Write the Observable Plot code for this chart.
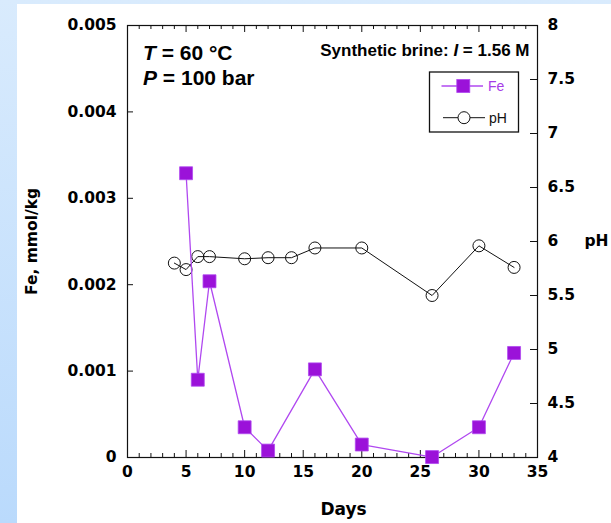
<!DOCTYPE html>
<html><head><meta charset="utf-8">
<script src="https://cdn.jsdelivr.net/npm/d3@7"></script>
<script src="https://cdn.jsdelivr.net/npm/@observablehq/plot@0.6"></script>
<style>
html,body{margin:0;padding:0;background:#fff}
#wrap{position:relative;width:611px;height:523px;overflow:hidden;background:linear-gradient(to bottom,#d9ebfd,#badafc)}
#panel{position:absolute;left:17px;top:4px;width:594px;height:519px;background:#fff}
#overlay{position:absolute;left:0;top:0;pointer-events:none}
</style></head><body>
<div id="wrap"><div id="panel"></div>
<svg id="overlay" width="611" height="523" font-family="'Liberation Sans', Arial, sans-serif">
  <text x="143" y="60" font-size="21" font-weight="bold"><tspan font-style="italic">T</tspan> = 60 °C</text>
  <text x="143" y="85" font-size="21" font-weight="bold"><tspan font-style="italic">P</tspan> = 100 bar</text>
  <text x="529.5" y="56" font-size="17" font-weight="bold" text-anchor="end">Synthetic brine: <tspan font-style="italic">I</tspan> = 1.56 M</text>
  <rect x="429.5" y="72" width="89" height="60" fill="#fff" stroke="#111" stroke-width="1.3"/>
  <line x1="441.5" x2="483" y1="86" y2="86" stroke="#b048f0" stroke-width="1.3"/>
  <rect x="456.8" y="79.5" width="13" height="13" fill="#9b12d9" stroke="#b048f0" stroke-width="0.8"/>
  <text x="488" y="91" font-size="14" fill="#a63ce8">Fe</text>
  <line x1="443" x2="485" y1="117.7" y2="117.7" stroke="#111" stroke-width="1"/>
  <circle cx="464" cy="117.7" r="6" fill="#fff" stroke="#111" stroke-width="1"/>
  <text x="489" y="122.5" font-size="14" fill="#111">pH</text>
</svg>
</div>
<script>
// ---- data ----
const feDays = [5, 6, 7, 10, 12, 16, 20, 26, 30, 33];
const feValues = [0.00329, 0.00090, 0.00204, 0.00035, 0.00008, 0.00102, 0.00015, 0.000005, 0.00035, 0.00121];
const phDays = [4, 5, 6, 7, 10, 12, 14, 16, 20, 26, 30, 33];
const phValues = [5.80, 5.74, 5.86, 5.86, 5.84, 5.85, 5.85, 5.94, 5.94, 5.50, 5.96, 5.76];
const dayTicks = [0, 5, 10, 15, 20, 25, 30, 35];
const dayMinorTicks = [1,2,3,4,6,7,8,9,11,12,13,14,16,17,18,19,21,22,23,24,26,27,28,29,31,32,33,34];
const feTicks = [0, 0.001, 0.002, 0.003, 0.004, 0.005];
const phTicks = [4, 4.5, 5, 5.5, 6, 6.5, 7, 7.5, 8];

const FE_MAX = 0.005, PH_MIN = 4, PH_MAX = 8;
const toFe = p => (p - PH_MIN) / (PH_MAX - PH_MIN) * FE_MAX;
const toPh = v => v / FE_MAX * (PH_MAX - PH_MIN) + PH_MIN;

const feData = feDays.map((d, i) => ({day: d, fe: feValues[i]}));
const phData = phDays.map((d, i) => ({day: d, ph: phValues[i], y: toFe(phValues[i])}));

const W = 594, H = 519, mL = 110, mR = 74, mT = 21, mB = 66;
const pw = W - mL - mR, ph = H - mT - mB;
const purple = "#9b12d9", purpleLine = "#b048f0";

const chart = Plot.plot({
  width: W, height: H,
  marginLeft: mL, marginRight: mR, marginTop: mT, marginBottom: mB,
  style: {background: "transparent", color: "#000", fontFamily: "'DejaVu Sans', sans-serif", fontWeight: "bold", fontSize: "15.5px"},
  x: {domain: [0, 35]},
  y: {domain: [0, FE_MAX]},
  marks: [
    // inward ticks
    Plot.tickX(dayMinorTicks, {x: d => d, insetTop: ph - 4, stroke: "#111"}),
    Plot.tickX(dayTicks, {x: d => d, insetTop: ph - 7, stroke: "#111"}),
    Plot.tickX(dayMinorTicks, {x: d => d, insetBottom: ph - 4, stroke: "#111"}),
    Plot.tickX(dayTicks, {x: d => d, insetBottom: ph - 7, stroke: "#111"}),
    Plot.tickY(feTicks, {y: d => d, insetRight: pw - 6, stroke: "#111"}),
    Plot.tickY(phTicks, {y: d => toFe(d), insetLeft: pw - 7, stroke: "#111"}),
    Plot.frame({stroke: "#111", strokeWidth: 1.2}),
    // axes labels
    Plot.axisX({ticks: dayTicks, tickSize: 0, tickPadding: 8, label: null, tickFormat: d => String(d)}),
    Plot.axisY({anchor: "left", ticks: feTicks, tickSize: 0, tickPadding: 11, label: null,
      tickFormat: v => v === 0 ? "0" : v.toFixed(3)}),
    Plot.axisY({anchor: "right", ticks: phTicks.map(toFe), tickSize: 0, tickPadding: 10, label: null,
      tickFormat: v => String(Math.round(toPh(v) * 10) / 10)}),
    Plot.text(["Fe, mmol/kg"], {frameAnchor: "left", textAnchor: "middle", lineAnchor: "middle", rotate: -90, dx: -95, fontSize: 15.5}),
    Plot.text(["pH"], {x: 35, y: toFe(6), dx: 47, textAnchor: "start", fontSize: 15.5}),
    Plot.text(["Days"], {frameAnchor: "bottom", lineAnchor: "middle", dx: 11, dy: 52, fontSize: 17}),
    // pH series
    Plot.line(phData, {x: "day", y: "y", stroke: "#111", strokeWidth: 1}),
    Plot.dot(phData, {x: "day", y: "y", r: 6, fill: "none", stroke: "#111", strokeWidth: 1}),
    // Fe series
    Plot.line(feData, {x: "day", y: "fe", stroke: purpleLine, strokeWidth: 1.3}),
    Plot.dot(feData, {x: "day", y: "fe", symbol: "square", r: 7.3, fill: purple, stroke: purpleLine, strokeWidth: 0.8})
  ]
});
chart.style.position = "absolute";
chart.style.left = "17px";
chart.style.top = "4px";
document.getElementById("wrap").insertBefore(chart, document.getElementById("overlay"));
</script>
</body></html>
